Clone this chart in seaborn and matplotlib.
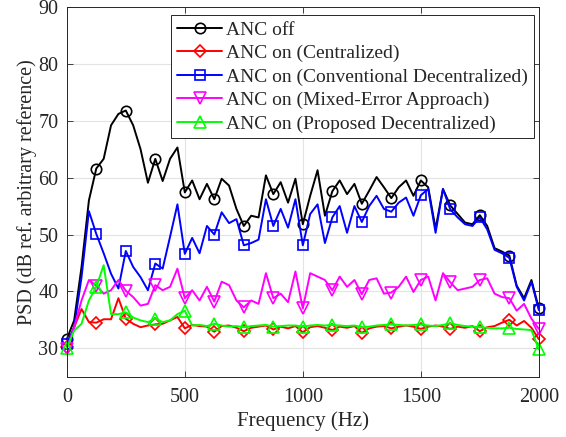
import numpy as np
import pandas as pd
import matplotlib
matplotlib.use("Agg")
import matplotlib.pyplot as plt
import seaborn as sns

# Frequency sample positions (Hz)
freq = np.linspace(0, 2000, 65)

anc_off = [31.6, 34.9, 44.3, 56.0, 61.6, 63.3, 69.2, 71.2, 71.8, 69.2,
           65.0, 59.1, 63.3, 59.4, 63.3, 65.3, 57.4, 59.5, 56.2, 58.9,
           56.2, 59.8, 58.6, 54.5, 51.5, 53.3, 53.0, 60.4, 57.1, 59.2,
           55.6, 59.8, 51.8, 56.8, 61.3, 53.3, 57.6, 59.5, 57.1, 58.9,
           55.4, 57.7, 60.1, 58.3, 56.4, 58.3, 59.5, 56.8, 59.5, 58.3,
           51.0, 58.0, 55.1, 53.6, 52.1, 51.8, 53.4, 51.5, 47.6, 47.0,
           46.3, 41.0, 38.8, 42.0, 37.0]

anc_central = [30.3, 33.7, 36.9, 34.6, 34.5, 35.1, 35.1, 38.8, 35.2, 34.3,
               33.7, 34.0, 34.2, 34.3, 34.9, 35.5, 33.5, 34.1, 33.9, 33.8,
               32.9, 33.9, 34.0, 33.6, 33.0, 33.6, 33.8, 34.0, 33.3, 33.8,
               33.5, 33.9, 32.8, 33.7, 33.9, 33.6, 33.2, 33.8, 33.6, 33.9,
               32.7, 33.5, 33.8, 33.9, 33.5, 33.8, 34.0, 33.8, 33.4, 33.8,
               34.0, 33.8, 33.4, 33.8, 33.6, 33.9, 33.0, 33.7, 33.9, 34.5,
               35.0, 34.0, 34.8, 33.6, 31.6]

anc_conv_decent = [30.8, 33.7, 42.5, 54.1, 50.1, 46.7, 43.1, 40.5, 47.1, 44.3,
                   42.5, 40.2, 44.9, 44.0, 49.6, 55.3, 46.6, 49.4, 46.7, 51.5,
                   50.0, 53.9, 52.0, 52.7, 48.1, 48.5, 49.1, 56.2, 51.5, 54.5,
                   51.2, 56.2, 48.1, 53.6, 55.3, 48.5, 53.0, 55.0, 50.3, 55.0,
                   52.2, 55.0, 56.8, 54.5, 54.0, 55.6, 56.5, 53.3, 56.9, 58.0,
                   50.3, 58.0, 54.4, 53.0, 51.8, 51.5, 53.0, 50.9, 47.3, 46.7,
                   45.9, 40.8, 38.4, 41.7, 36.7]

anc_mixed = [29.9, 33.7, 38.4, 42.0, 41.0, 39.6, 40.2, 42.0, 40.1, 39.0,
             37.5, 37.8, 41.1, 40.2, 40.8, 44.0, 38.8, 40.2, 38.4, 40.8,
             38.2, 41.7, 41.1, 38.4, 37.2, 38.4, 37.8, 43.2, 38.8, 39.6,
             38.1, 43.5, 37.0, 43.2, 42.6, 42.0, 40.2, 42.6, 40.8, 42.0,
             39.5, 42.0, 42.3, 39.6, 39.8, 40.8, 42.6, 39.9, 42.0, 42.6,
             38.4, 43.2, 41.6, 40.2, 40.5, 40.8, 42.0, 42.3, 39.6, 39.0,
             38.8, 36.6, 37.8, 35.2, 33.4]

anc_proposed = [30.0, 33.1, 34.3, 38.4, 40.8, 44.6, 36.0, 36.0, 36.3, 35.4,
                34.9, 34.6, 35.2, 34.6, 34.9, 36.0, 36.6, 34.0, 34.1, 33.9,
                34.3, 34.0, 33.8, 33.9, 33.7, 33.9, 34.0, 34.1, 33.8, 33.9,
                34.0, 34.0, 33.8, 34.0, 34.1, 34.0, 34.1, 34.0, 33.9, 34.0,
                33.7, 33.8, 34.0, 34.1, 34.2, 34.1, 34.0, 34.1, 34.2, 34.0,
                33.9, 34.1, 34.4, 34.1, 33.9, 33.8, 33.7, 33.6, 33.5, 33.5,
                33.6, 33.4, 33.3, 33.2, 29.8]

labels = ["ANC off",
          "ANC on (Centralized)",
          "ANC on (Conventional Decentralized)",
          "ANC on (Mixed-Error Approach)",
          "ANC on (Proposed Decentralized)"]
series = [anc_off, anc_central, anc_conv_decent, anc_mixed, anc_proposed]
colors = ["#000000", "#ff0000", "#0000ff", "#ff00ff", "#00ff00"]
markers = ["o", "D", "s", "v", "^"]
msizes = [7.5, 6.0, 6.5, 8.0, 8.0]

x_ticks = [0, 500, 1000, 1500, 2000]
y_ticks = [30, 40, 50, 60, 70, 80, 90]

sns.set_theme(style="whitegrid")
plt.rcParams["font.family"] = ["Liberation Serif", "DejaVu Serif"]
plt.rcParams["mathtext.fontset"] = "stix"

fig = plt.figure(figsize=(5.66, 4.37), dpi=100)
ax = fig.add_axes([0.118, 0.138, 0.834, 0.846])

for y, lab, c, m, ms in zip(series, labels, colors, markers, msizes):
    df = pd.DataFrame({"f": freq, "v": y})
    sns.lineplot(data=df, x="f", y="v", ax=ax, color=c, label=lab,
                 marker=m, markevery=4, markersize=ms,
                 markerfacecolor="none", markeredgecolor=c,
                 markeredgewidth=1.2, linewidth=1.4, clip_on=False,
                 estimator=None, sort=False)

ax.set_xlim(0, 2000)
ax.set_ylim(25, 90)
ax.set_xticks(x_ticks)
ax.set_yticks(y_ticks)
ax.tick_params(axis="both", which="both", direction="in", length=4,
               width=0.6, colors="#262626", labelsize=14.5,
               top=True, right=True, bottom=True, left=True)
ax.tick_params(axis="x", pad=8)
ax.tick_params(axis="y", pad=6)
for lab in ax.get_xticklabels() + ax.get_yticklabels():
    lab.set_color("#262626")
ax.grid(True, color="#e3e3e3", linewidth=0.8)
ax.set_facecolor("white")
for sp in ax.spines.values():
    sp.set_color("#262626")
    sp.set_linewidth(0.7)

ax.set_xlabel("Frequency (Hz)", fontsize=15, color="#262626", labelpad=3)
ax.set_ylabel("PSD (dB ref. arbitrary reference)", fontsize=14.5,
              color="#262626", labelpad=1)

leg = ax.legend(loc="upper right", bbox_to_anchor=(0.989, 0.978),
                borderaxespad=0, fontsize=14, frameon=True, fancybox=False,
                edgecolor="#262626", framealpha=1, handlelength=2.3,
                handletextpad=0.2, labelspacing=0.3, borderpad=0.3)
leg.get_frame().set_linewidth(0.7)

fig.savefig("out.png", dpi=100)
